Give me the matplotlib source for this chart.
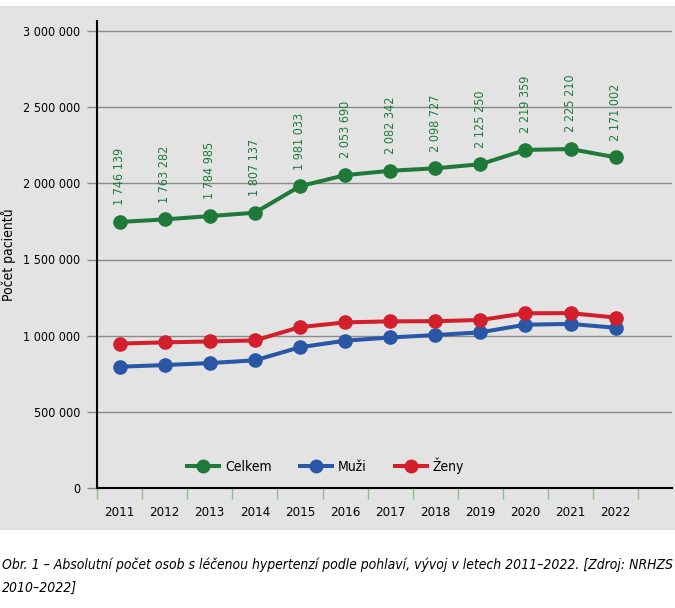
import matplotlib
matplotlib.use("Agg")
import matplotlib.pyplot as plt
from matplotlib import font_manager as fm
from matplotlib.patches import Rectangle
from matplotlib.ticker import FixedLocator, FuncFormatter

# ---- data ----
years = ["2011", "2012", "2013", "2014", "2015", "2016", "2017", "2018", "2019", "2020", "2021", "2022"]
celkem = [1746139, 1763282, 1784985, 1807137, 1981033, 2053690, 2082342, 2098727, 2125250, 2219359, 2225210, 2171002]
muzi = [796000, 807000, 820000, 838000, 924000, 967000, 988000, 1004000, 1022000, 1072000, 1077000, 1052000]
zeny = [948000, 956000, 962000, 969000, 1056000, 1087000, 1094000, 1095000, 1103000, 1147000, 1148000, 1119000]
series_names = ["Celkem", "Muži", "Ženy"]
y_ticks = [0, 500000, 1000000, 1500000, 2000000, 2500000, 3000000]
caption_lines = ["Obr. 1 – Absolutní počet osob s léčenou hypertenzí podle pohlaví, vývoj v letech 2011–2022. [Zdroj: NRHZS",
                 "2010–2022]"]
y_label = "Počet pacientů"

# ---- fonts ----
entries = fm.fontManager.ttflist
names = {f.name for f in entries}
stretch = "normal"
if "Liberation Sans Narrow" in names:
    family = "Liberation Sans Narrow"
elif any(f.name == "DejaVu Sans" and f.stretch == "condensed" for f in entries):
    family = "DejaVu Sans"
    stretch = "condensed"
else:
    family = "DejaVu Sans"
plt.rcParams["font.family"] = [family, "DejaVu Sans"]
plt.rcParams["font.stretch"] = stretch

W, H = 675, 608
fig = plt.figure(figsize=(W / 100, H / 100), dpi=100)
fig.patch.set_facecolor("white")
bg = "#e3e3e3"
bgrect = Rectangle((0, 1 - 530 / H), 1, (530 - 6) / H, transform=fig.transFigure,
                   facecolor=bg, edgecolor="none", zorder=-10)
fig.add_artist(bgrect)

ax = fig.add_axes([97 / W, 1 - 488 / H, (672 - 97) / W, (488 - 21) / H])
ax.set_zorder(1)
ax.set_facecolor("none")

green, blue, red = "#1f7a3a", "#2a56a6", "#d21f2b"
x = list(range(len(years)))
lw, ms = 2.9, 9.5
l1, = ax.plot(x, celkem, color=green, lw=lw, marker="o", ms=ms, zorder=4, label=series_names[0])
l2, = ax.plot(x, muzi, color=blue, lw=lw, marker="o", ms=ms, zorder=4, label=series_names[1])
l3, = ax.plot(x, zeny, color=red, lw=lw, marker="o", ms=ms, zorder=4, label=series_names[2])

for xi, v in zip(x, celkem):
    s = f"{v:,}".replace(",", " ")
    ax.annotate(s, (xi, v), xytext=(0, 12), textcoords="offset points", rotation=90,
                ha="center", va="bottom", color=green, fontsize=9)

ymax = 3000000 * (488 - 21) / (488 - 31)
ax.set_ylim(0, ymax)
ax.set_xlim(-0.5, -0.5 + (672 - 97) / 45.1)

ax.yaxis.set_major_locator(FixedLocator(y_ticks))
ax.yaxis.set_major_formatter(FuncFormatter(lambda v, p: f"{int(v):,}".replace(",", " ")))
ax.grid(axis="y", color="#8a8a8a", lw=1.0, zorder=1)
ax.set_axisbelow(True)

ax.set_xticks(x)
ax.set_xticklabels(years)
ax.set_xticks([i - 0.5 for i in range(len(years) + 1)], minor=True)
ax.tick_params(axis="x", which="major", length=0, pad=13, labelsize=9.5)
ax.tick_params(axis="x", which="minor", length=8, width=1.0, color="#8fbf8f", direction="out")
ax.tick_params(axis="y", which="major", length=7, width=1.0, color="#8a8a8a", labelsize=9, pad=5)
ax.xaxis.get_minor_ticks()[0].tick1line.set_color("black")
ax.yaxis.get_major_ticks()[0].tick1line.set_color("black")

for sp in ["top", "right"]:
    ax.spines[sp].set_visible(False)
for sp in ["left", "bottom"]:
    ax.spines[sp].set_color("black")
    ax.spines[sp].set_linewidth(1.5)

ax.set_ylabel(y_label, fontsize=10)
ax.yaxis.set_label_coords(-0.14, 0.5)

leg = ax.legend(handles=[l1, l2, l3], loc="center", bbox_to_anchor=(0.398, 0.048), ncol=3,
                frameon=False, fontsize=10, handlelength=2.3, columnspacing=2.0, handletextpad=0.45,
                markerscale=0.95)

# caption: shrink font until first line fits the width
renderer = fig.canvas.get_renderer()
fs = 13.0
while True:
    t = fig.text(2 / W, 1 - 565 / H, caption_lines[0], ha="left", va="center", fontsize=fs, style="italic")
    wpx = t.get_window_extent(renderer).width
    if wpx <= W - 4 or fs < 7:
        break
    t.remove()
    fs -= 0.2
fig.text(2 / W, 1 - 588 / H, caption_lines[1], ha="left", va="center", fontsize=fs, style="italic")

fig.savefig("out.png", dpi=100, facecolor=fig.get_facecolor())
